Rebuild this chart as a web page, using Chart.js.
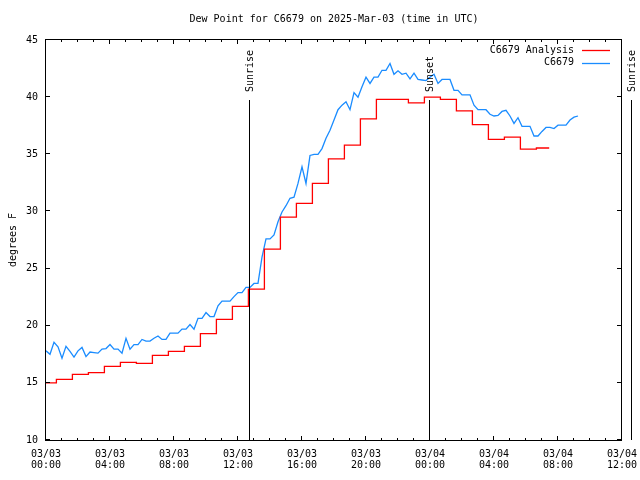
<!DOCTYPE html>
<html>
<head>
<meta charset="utf-8">
<script src="https://cdn.jsdelivr.net/npm/chart.js@4.4.1/dist/chart.umd.min.js"></script>
<style>
html, body { margin: 0; padding: 0; background: #fff; }
</style>
</head>
<body>
<canvas id="chart" width="640" height="480"></canvas>
<script>
// Dew point C6679, hours since 03/03 00:00 UTC
const xTickLabels = [
    ['03/03', '00:00'], ['03/03', '04:00'], ['03/03', '08:00'], ['03/03', '12:00'],
    ['03/03', '16:00'], ['03/03', '20:00'], ['03/04', '00:00'], ['03/04', '04:00'],
    ['03/04', '08:00'], ['03/04', '12:00']
];
const yTicks = [10, 15, 20, 25, 30, 35, 40, 45];

// Analysis (red) - each point starts a new plateau
const analysisHours = [
    0, 0.65, 1.65, 2.65, 3.65, 4.65, 5.65, 6.65, 7.65, 8.65, 9.65, 10.65, 11.65, 12.65,
    13.65, 14.65, 15.65, 16.65, 17.65, 18.65, 19.65, 20.65, 21.65, 22.65, 23.65, 24.65,
    25.65, 26.65, 27.65, 28.65, 29.65, 30.65, 31.45
];
const analysisValues = [
    15.0, 15.3, 15.75, 15.9, 16.45, 16.8, 16.7, 17.4, 17.75, 18.2, 19.3, 20.55, 21.7, 23.2,
    26.7, 29.5, 30.7, 32.45, 34.6, 35.8, 38.1, 39.8, 39.8, 39.5, 40.0, 39.8,
    38.8, 37.6, 36.3, 36.5, 35.45, 35.55, 35.55
];

// Observations (blue) - every 15 minutes
const obsStepHours = 0.25;
const obsValues = [
    17.8, 17.5, 18.55, 18.15, 17.15, 18.2, 17.75, 17.25, 17.8, 18.1, 17.3, 17.7,
    17.65, 17.6, 17.95, 18.0, 18.35, 17.95, 17.95, 17.6, 18.9, 17.95, 18.35, 18.35,
    18.8, 18.65, 18.65, 18.9, 19.1, 18.8, 18.8, 19.35, 19.35, 19.35, 19.7, 19.7,
    20.1, 19.7, 20.65, 20.65, 21.15, 20.8, 20.8, 21.75, 22.15, 22.15, 22.15, 22.55,
    22.9, 22.9, 23.35, 23.35, 23.7, 23.7, 26.0, 27.6, 27.6, 27.95, 29.1, 29.95,
    30.5, 31.15, 31.25, 32.45, 33.9, 32.45, 34.9, 35.0, 35.0, 35.5, 36.4, 37.1,
    38.0, 38.9, 39.3, 39.6, 38.9, 40.4, 40.0, 40.9, 41.75, 41.2, 41.75, 41.75,
    42.35, 42.35, 42.95, 42.0, 42.3, 42.0, 42.1, 41.6, 42.1, 41.55, 41.5, 41.45,
    41.75, 42.0, 41.2, 41.55, 41.55, 41.55, 40.6, 40.6, 40.2, 40.2, 40.2, 39.3,
    38.9, 38.9, 38.9, 38.5, 38.35, 38.4, 38.75, 38.85, 38.35, 37.7, 38.2, 37.45,
    37.45, 37.45, 36.6, 36.6, 37.0, 37.35, 37.35, 37.25, 37.55, 37.55, 37.55, 38.0,
    38.25, 38.35
];

// Sun markers
const markerHours = [12.75, 24.0, 36.63];
const markerLabels = ['Sunrise', 'Sunset', 'Sunrise'];

const FONT = '10px "DejaVu Sans Mono"';
const RED = '#ff0000';
const BLUE = '#1a8cff';

// Frame, inward ticks, markers, title, legend (gnuplot look)
const gnuplotDecor = {
    id: 'gnuplotDecor',
    afterDatasetsDraw(chart) {
        const { ctx, chartArea: a, scales: { x, y } } = chart;
        ctx.save();
        ctx.strokeStyle = '#000';
        ctx.fillStyle = '#000';
        ctx.lineWidth = 1;
        ctx.font = FONT;

        // frame
        ctx.strokeRect(a.left - 0.5, a.top - 0.5, a.right - a.left, a.bottom - a.top + 1);

        // x ticks, one per hour, mirrored on top
        ctx.beginPath();
        for (let h = 0; h <= 36; h++) {
            const px = Math.round(x.getPixelForValue(h)) - 0.5;
            const len = h % 4 === 0 ? 4 : 2;
            ctx.moveTo(px, a.bottom);
            ctx.lineTo(px, a.bottom - len);
            ctx.moveTo(px, a.top);
            ctx.lineTo(px, a.top + len);
        }
        // y ticks, mirrored on right
        yTicks.forEach(v => {
            const py = Math.round(y.getPixelForValue(v)) - 0.5;
            ctx.moveTo(a.left, py);
            ctx.lineTo(a.left + 4, py);
            ctx.moveTo(a.right - 1, py);
            ctx.lineTo(a.right - 5, py);
        });
        ctx.stroke();

        // sunrise / sunset lines
        const lineTop = a.top + 0.15 * (a.bottom - a.top);
        markerHours.forEach((h, i) => {
            const px = Math.round(x.getPixelForValue(h)) - 0.5;
            ctx.beginPath();
            ctx.moveTo(px, lineTop);
            ctx.lineTo(px, a.bottom);
            ctx.stroke();
            ctx.save();
            ctx.translate(px + 0.5, lineTop - 8);
            ctx.rotate(-Math.PI / 2);
            ctx.textAlign = 'left';
            ctx.textBaseline = 'middle';
            ctx.fillText(markerLabels[i], 0, 0);
            ctx.restore();
        });

        // title
        ctx.textAlign = 'center';
        ctx.textBaseline = 'middle';
        ctx.fillText('Dew Point for C6679 on 2025-Mar-03 (time in UTC)', (a.left + a.right) / 2, 19);

        // y axis title
        ctx.save();
        ctx.translate(13, 240);
        ctx.rotate(-Math.PI / 2);
        ctx.fillText('degrees F', 0, 0);
        ctx.restore();

        // legend
        const items = [
            { label: 'C6679 Analysis', color: RED },
            { label: 'C6679', color: BLUE }
        ];
        ctx.textAlign = 'right';
        items.forEach((it, i) => {
            const ly = 50 + i * 12.5;
            ctx.fillStyle = '#000';
            ctx.fillText(it.label, 574, ly);
            ctx.strokeStyle = it.color;
            ctx.lineWidth = 1.3;
            ctx.beginPath();
            ctx.moveTo(582, Math.round(ly) + 0.5);
            ctx.lineTo(610, Math.round(ly) + 0.5);
            ctx.stroke();
        });
        ctx.restore();
    }
};

const chart = new Chart(document.getElementById('chart'), {
    type: 'line',
    data: {
        datasets: [
            {
                label: 'C6679 Analysis',
                data: analysisHours.map((h, i) => ({ x: h, y: analysisValues[i] })),
                borderColor: RED,
                borderWidth: 1.3,
                pointRadius: 0,
                stepped: 'before',
                fill: false
            },
            {
                label: 'C6679',
                data: obsValues.map((v, i) => ({ x: i * obsStepHours, y: v })),
                borderColor: BLUE,
                borderWidth: 1.3,
                pointRadius: 0,
                tension: 0,
                fill: false
            }
        ]
    },
    options: {
        responsive: false,
        animation: false,
        layout: { padding: { top: 40, right: 18, left: 0, bottom: 0 } },
        plugins: {
            legend: { display: false },
            tooltip: { enabled: false },
            title: { display: false }
        },
        scales: {
            x: {
                type: 'linear',
                min: 0,
                max: 36,
                afterFit: scale => {
                    scale.height = 40;
                    // edge labels may hang past the plot area
                    scale.paddingLeft = 0;
                    scale.paddingRight = 0;
                },
                grid: { display: false, drawTicks: false },
                border: { display: false },
                ticks: {
                    stepSize: 4,
                    autoSkip: false,
                    maxRotation: 0,
                    padding: 9,
                    color: '#000',
                    font: { family: 'DejaVu Sans Mono', size: 10, lineHeight: 1.1 },
                    callback: v => xTickLabels[Math.round(v / 4)]
                }
            },
            y: {
                min: 10,
                max: 45,
                afterFit: scale => {
                    scale.width = 46;
                    scale.paddingTop = 0;
                    scale.paddingBottom = 0;
                },
                grid: { display: false, drawTicks: false },
                border: { display: false },
                ticks: {
                    stepSize: 5,
                    padding: 8,
                    color: '#000',
                    font: { family: 'DejaVu Sans Mono', size: 10 }
                }
            }
        }
    },
    plugins: [gnuplotDecor]
});
</script>
</body>
</html>
